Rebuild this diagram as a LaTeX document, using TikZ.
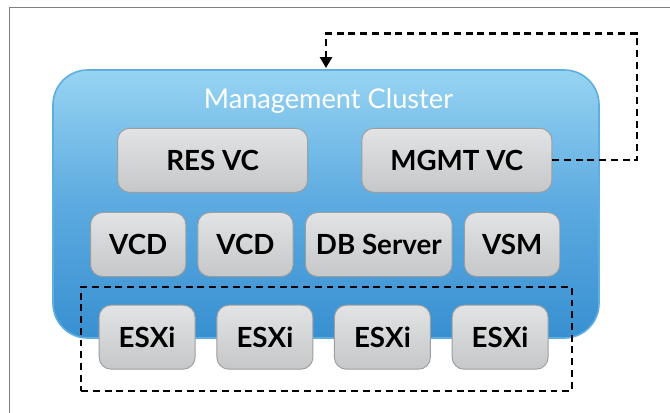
\documentclass[tikz,border=0pt]{standalone}
\usepackage{fontspec}
\setmainfont{Lato}
\usepackage{xcolor}
\usetikzlibrary{arrows.meta}

\definecolor{clustertop}{HTML}{97D4F2}
\definecolor{clustermid}{HTML}{5CAAE0}
\definecolor{clusterbot}{HTML}{3890D1}
\definecolor{clusteredge}{HTML}{5FAEE0}
\definecolor{boxtop}{HTML}{E2E3E5}
\definecolor{boxbot}{HTML}{C6C7C9}
\definecolor{boxedge}{HTML}{9C9D9F}
\definecolor{framegray}{HTML}{808080}

\begin{document}
\begin{tikzpicture}[
  x=0.75pt,
  y=-0.75pt,
  every node/.style={inner sep=0pt},
  vmbox/.style={draw=boxedge, line width=0.7pt, rounded corners=9pt, top color=boxtop, bottom color=boxbot, minimum height=48pt, align=center, font=\fontsize{20.8}{24}\selectfont\bfseries},
  cluster/.style={draw=clusteredge, line width=1.2pt, rounded corners=26pt, top color=clustertop, bottom color=clusterbot, middle color=clustermid, minimum width=409.5pt, minimum height=201pt},
  dashline/.style={black, line width=1.7pt, dash pattern=on 5.2pt off 3.6pt},
]

% Canvas and outer frame.
\clip (0,0) rectangle (670,412);
\fill[white] (0,0) rectangle (670,412);
\draw[framegray, line width=0.8pt] (9.4,7.5) rectangle (700,440);

% Cluster.
\node[cluster] (cluster) at (326,204) {};
\node[font=\fontsize{20.4}{24}\selectfont, text=white, anchor=base] (title) at (328.5,108) {Management Cluster};

% Row: vCenter servers.
\node[vmbox, minimum width=142.5pt] (resvc) at (212.6,160.3) {RES VC};
\node[vmbox, minimum width=142.5pt] (mgmtvc) at (456.8,160.3) {MGMT VC};

% Row: management VMs.
\node[vmbox, minimum width=71.5pt] (vcdA) at (138.2,244.5) {VCD};
\node[vmbox, minimum width=71.5pt] (vcdB) at (245.5,244.5) {VCD};
\node[vmbox, minimum width=110pt] (dbsrv) at (378.8,244.5) {DB Server};
\node[vmbox, minimum width=71.5pt] (vsm) at (512.1,244.5) {VSM};

% Host group.
\node[dashline, draw, minimum width=368pt, minimum height=78pt] (hosts) at (326.5,338.7) {};
\foreach \hx [count=\i] in {147.1,264.9,382.4,500.1}
  \node[vmbox, minimum width=72pt] (esx\i) at (\hx,337.2) {ESXi};

% Management link.
\coordinate (turnR) at (636.8,33.5);
\draw[dashline, -{Triangle[width=9pt,length=8pt]}, shorten >=1pt] (mgmtvc.east) -| (turnR) -| (cluster.north);

\end{tikzpicture}
\end{document}
